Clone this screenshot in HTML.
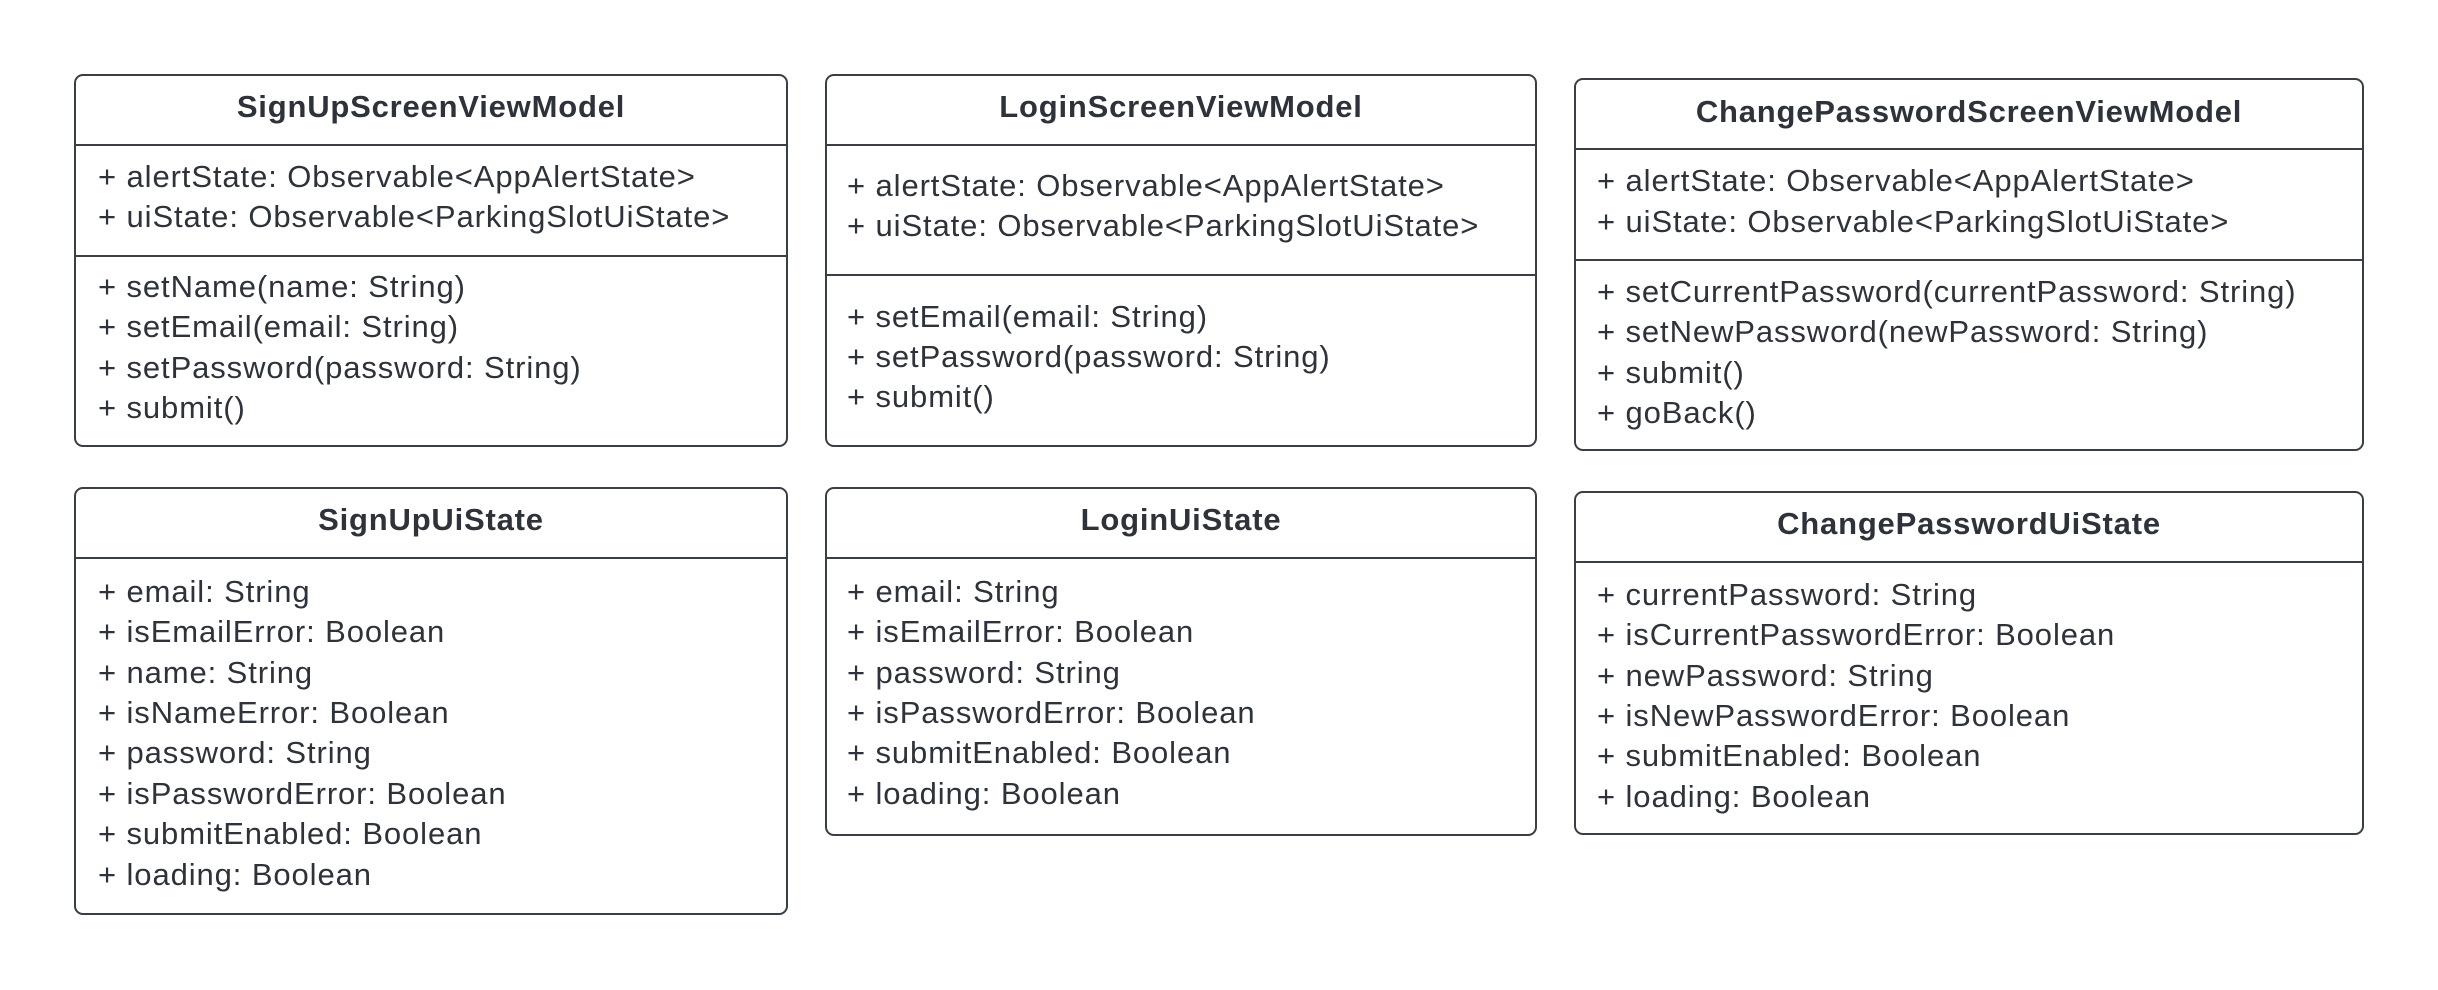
<!DOCTYPE html>
<html><head><meta charset="utf-8"><style>html,body{margin:0;padding:0;background:#fff}svg{display:block}</style></head>
<body>
<svg width="2438" height="990" viewBox="0 0 2438 990" xmlns="http://www.w3.org/2000/svg" font-family="'Liberation Sans', Arial, sans-serif" fill="#2e333b">
<g fill="none" stroke="#3a3e46" stroke-width="2">
<rect x="75" y="75" width="712" height="371" rx="8"/>
<line x1="75" y1="145" x2="787" y2="145"/><line x1="75" y1="256" x2="787" y2="256"/>
<rect x="826" y="75" width="710" height="371" rx="8"/>
<line x1="826" y1="145" x2="1536" y2="145"/><line x1="826" y1="275" x2="1536" y2="275"/>
<rect x="1575" y="79" width="788" height="371" rx="8"/>
<line x1="1575" y1="149" x2="2363" y2="149"/><line x1="1575" y1="260" x2="2363" y2="260"/>
<rect x="75" y="488" width="712" height="426" rx="8"/>
<line x1="75" y1="558" x2="787" y2="558"/>
<rect x="826" y="488" width="710" height="347" rx="8"/>
<line x1="826" y1="558" x2="1536" y2="558"/>
<rect x="1575" y="492" width="788" height="342" rx="8"/>
<line x1="1575" y1="562" x2="2363" y2="562"/>
</g>
<g font-weight="bold" font-size="31" text-anchor="middle" letter-spacing="0.8">
<text x="431" y="117">SignUpScreenViewModel</text>
<text x="1181" y="117">LoginScreenViewModel</text>
<text x="1969" y="122">ChangePasswordScreenViewModel</text>
<text x="431" y="530">SignUpUiState</text>
<text x="1181" y="530">LoginUiState</text>
<text x="1969" y="534">ChangePasswordUiState</text>
</g>
<g font-size="31" letter-spacing="0.9">
<text x="98" y="187">+ alertState: Observable&lt;AppAlertState&gt;</text>
<text x="98" y="227">+ uiState: Observable&lt;ParkingSlotUiState&gt;</text>
<text x="98" y="297">+ setName(name: String)</text>
<text x="98" y="337">+ setEmail(email: String)</text>
<text x="98" y="378">+ setPassword(password: String)</text>
<text x="98" y="418">+ submit()</text>

<text x="847" y="196">+ alertState: Observable&lt;AppAlertState&gt;</text>
<text x="847" y="236">+ uiState: Observable&lt;ParkingSlotUiState&gt;</text>
<text x="847" y="327">+ setEmail(email: String)</text>
<text x="847" y="367">+ setPassword(password: String)</text>
<text x="847" y="407">+ submit()</text>

<text x="1597" y="191">+ alertState: Observable&lt;AppAlertState&gt;</text>
<text x="1597" y="232">+ uiState: Observable&lt;ParkingSlotUiState&gt;</text>
<text x="1597" y="302">+ setCurrentPassword(currentPassword: String)</text>
<text x="1597" y="342">+ setNewPassword(newPassword: String)</text>
<text x="1597" y="383">+ submit()</text>
<text x="1597" y="423">+ goBack()</text>

<text x="98" y="602">+ email: String</text>
<text x="98" y="642">+ isEmailError: Boolean</text>
<text x="98" y="683">+ name: String</text>
<text x="98" y="723">+ isNameError: Boolean</text>
<text x="98" y="763">+ password: String</text>
<text x="98" y="804">+ isPasswordError: Boolean</text>
<text x="98" y="844">+ submitEnabled: Boolean</text>
<text x="98" y="885">+ loading: Boolean</text>

<text x="847" y="602">+ email: String</text>
<text x="847" y="642">+ isEmailError: Boolean</text>
<text x="847" y="683">+ password: String</text>
<text x="847" y="723">+ isPasswordError: Boolean</text>
<text x="847" y="763">+ submitEnabled: Boolean</text>
<text x="847" y="804">+ loading: Boolean</text>

<text x="1597" y="605">+ currentPassword: String</text>
<text x="1597" y="645">+ isCurrentPasswordError: Boolean</text>
<text x="1597" y="686">+ newPassword: String</text>
<text x="1597" y="726">+ isNewPasswordError: Boolean</text>
<text x="1597" y="766">+ submitEnabled: Boolean</text>
<text x="1597" y="807">+ loading: Boolean</text>
</g>
</svg>
</body></html>
